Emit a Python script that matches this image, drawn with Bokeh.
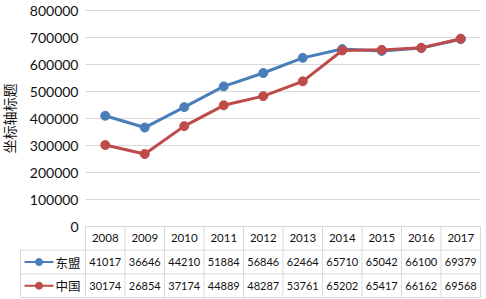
from bokeh.plotting import figure
from bokeh.models import Range1d, FixedTicker, NumeralTickFormatter
from bokeh.core.properties import value
from bokeh.embed import file_html
from bokeh.resources import INLINE

# ---- data ----
years = ["2008", "2009", "2010", "2011", "2012", "2013", "2014", "2015", "2016", "2017"]
series_names = ["东盟", "中国"]
asean = [410170, 366460, 442100, 518840, 568460, 624640, 657100, 650420, 661000, 693790]
china = [301740, 268540, 371740, 448890, 482870, 537610, 652020, 654170, 661620, 695680]
y_ticks = [0, 100000, 200000, 300000, 400000, 500000, 600000, 700000, 800000]
y_title = "坐标轴标题"

# ---- style ----
BLUE = "#4A7EBB"
RED = "#BE4B48"
GRID = "#D9D9D9"
TXT = "#111111"
NUM_FONT = "Lato"
CJK_FONT = "Noto Sans CJK SC"

# ---- layout helpers (pixel geometry) ----
FRAME_L, FRAME_R, FRAME_T, FRAME_B = 0, 481, 0, 298
TOP_TICK_PX, ZERO_PX = 10, 226     # page rows of the top gridline and of the zero line
COL_PX = 39.5                      # width of one year column
PX = 100000 / 27.0                 # value units per pixel
x_start = -0.5 - (85 - FRAME_L) / COL_PX
x_end = x_start + (FRAME_R - FRAME_L) / COL_PX


def px_x(px):
    return x_start + (px - FRAME_L) / COL_PX


xs = list(range(len(years)))
col_edges = [i - 0.5 for i in range(len(years) + 1)]
row_h = 23.67 * PX

p = figure(width=486, height=299, output_backend="svg", toolbar_location=None,
           x_range=Range1d(x_start, x_end),
           y_range=Range1d(-(FRAME_B - ZERO_PX) * PX, 800000 + (TOP_TICK_PX - FRAME_T) * PX),
           x_axis_location=None,
           min_border_left=FRAME_L, min_border_right=486 - FRAME_R,
           min_border_top=FRAME_T, min_border_bottom=299 - FRAME_B)
p.outline_line_color = None
p.grid.visible = False

ax = p.yaxis[0]
ax.fixed_location = -0.5
ax.bounds = (y_ticks[0], y_ticks[-1])
ax.ticker = FixedTicker(ticks=y_ticks)
ax.formatter = NumeralTickFormatter(format="0")
ax.axis_line_color = None
ax.major_tick_line_color = None
ax.minor_tick_line_color = None
ax.major_tick_out = 0
ax.major_tick_in = 0
ax.minor_tick_out = 0
ax.minor_tick_in = 0
ax.major_label_standoff = 7
ax.major_label_text_font = NUM_FONT
ax.major_label_text_font_size = "14px"
ax.major_label_text_color = TXT
ax.axis_label = y_title
ax.axis_label_text_font = CJK_FONT
ax.axis_label_text_font_style = "normal"
ax.axis_label_text_font_size = "14px"
ax.axis_label_text_color = TXT
ax.axis_label_standoff = 8

# horizontal gridlines of the plot area
n_t = len(y_ticks)
p.segment(x0=[col_edges[0]] * n_t, y0=y_ticks, x1=[col_edges[-1]] * n_t, y1=y_ticks,
          line_color=GRID, line_width=1)

# ---- data table grid ----
n_edges = len(col_edges)
p.segment(x0=col_edges, y0=[0] * n_edges, x1=col_edges, y1=[-3 * row_h] * n_edges,
          line_color=GRID, line_width=1)
x_tab_left = px_x(20)
hy = [-row_h, -2 * row_h, -3 * row_h]
p.segment(x0=[x_tab_left] * 3, y0=hy, x1=[col_edges[-1]] * 3, y1=hy, line_color=GRID, line_width=1)
p.segment(x0=[x_tab_left], y0=[-row_h], x1=[x_tab_left], y1=[-3 * row_h], line_color=GRID, line_width=1)

p.text(x=xs, y=[-row_h / 2] * len(xs), text=years, text_align="center", text_baseline="middle",
       text_font=value(NUM_FONT), text_font_size="11.5px", text_color=TXT)

# ---- series ----
for name, vals, colr in zip(series_names, [asean, china], [BLUE, RED]):
    p.line(xs, vals, line_color=colr, line_width=3, line_join="round")
    p.scatter(xs, vals, size=9, fill_color=colr, line_color=colr)

# ---- table rows with legend cells ----
for r, (name, vals, colr) in enumerate(zip(series_names, [asean, china], [BLUE, RED])):
    yc = -(1.5 + r) * row_h
    p.segment(x0=[px_x(24)], y0=[yc], x1=[px_x(53)], y1=[yc], line_color=colr, line_width=2)
    p.scatter([px_x(38.5)], [yc], size=7, fill_color=colr, line_color=colr)
    p.text(x=[px_x(55)], y=[yc], text=[name], text_align="left", text_baseline="middle",
           text_font=value(CJK_FONT), text_font_size="12.5px", text_color=TXT)
    p.text(x=xs, y=[yc] * len(xs), text=[str(v)[:5] for v in vals], text_align="center",
           text_baseline="middle", text_font=value(NUM_FONT), text_font_size="11px", text_color=TXT)

open("out.html", "w").write(file_html(p, INLINE))
